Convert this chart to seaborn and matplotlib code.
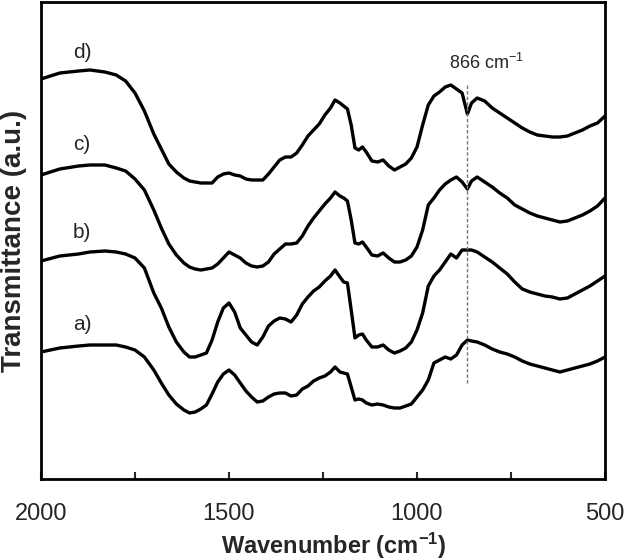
import matplotlib
matplotlib.use("Agg")
import matplotlib.pyplot as plt
import seaborn as sns
import pandas as pd
from matplotlib.ticker import MultipleLocator

# FTIR spectra, curves already offset vertically (arbitrary units)
wavenumber = [2000, 1950, 1900, 1870, 1830, 1800, 1775, 1750,
              1725, 1700, 1680, 1660, 1640, 1620, 1605, 1590,
              1575, 1560, 1545, 1530, 1515, 1500, 1485, 1470,
              1455, 1440, 1425, 1410, 1395, 1380, 1365, 1350,
              1335, 1320, 1305, 1290, 1275, 1260, 1245, 1230,
              1218, 1205, 1195, 1185, 1175, 1165, 1155, 1145,
              1135, 1120, 1105, 1090, 1075, 1060, 1045, 1030,
              1015, 1000, 985, 970, 955, 940, 925, 910,
              895, 880, 866, 855, 840, 820, 800, 780,
              760, 740, 720, 700, 680, 660, 640, 620,
              600, 580, 560, 540, 520, 500]

spec_a = [127, 131, 133, 134, 134, 134, 132, 129,
          122, 109, 96, 84, 75, 69, 66, 67,
          70, 74, 85, 97, 105, 109, 104, 96,
          88, 82, 77, 78, 82, 85, 86, 86,
          83, 84, 90, 93, 98, 101, 103, 107,
          112, 107, 106, 105, 92, 79, 80, 79,
          76, 74, 75, 74, 72, 71, 71, 73,
          75, 82, 89, 99, 116, 119, 122, 120,
          124, 134, 139, 138, 137, 134, 130, 127,
          125, 122, 118, 115, 113, 111, 109, 107,
          109, 111, 113, 115, 118, 122]

spec_b = [218, 223, 225, 227, 228, 227, 225, 221,
          211, 186, 171, 152, 137, 127, 122, 122,
          124, 126, 139, 157, 171, 176, 167, 151,
          144, 137, 134, 142, 153, 158, 161, 160,
          157, 164, 175, 182, 188, 192, 198, 203,
          209, 202, 197, 196, 169, 141, 144, 145,
          139, 132, 132, 134, 129, 126, 128, 131,
          137, 149, 166, 193, 203, 209, 217, 225,
          221, 229, 229, 229, 227, 222, 217, 211,
          205, 197, 190, 187, 185, 183, 182, 180,
          181, 185, 189, 193, 198, 203]

spec_c = [304, 310, 313, 314, 314, 311, 308, 300,
          289, 269, 251, 235, 224, 216, 212, 210,
          209, 210, 211, 215, 221, 227, 224, 221,
          216, 213, 212, 213, 217, 225, 230, 235,
          235, 236, 243, 253, 261, 268, 275, 281,
          287, 283, 281, 278, 259, 236, 235, 237,
          232, 224, 223, 226, 221, 217, 217, 219,
          223, 232, 249, 274, 281, 289, 295, 299,
          302, 297, 290, 298, 302, 297, 292, 286,
          281, 274, 270, 266, 263, 261, 259, 257,
          258, 261, 264, 268, 273, 281]

spec_d = [400, 406, 408, 409, 407, 404, 398, 386,
          368, 345, 330, 315, 307, 301, 298, 297,
          296, 296, 296, 302, 305, 306, 304, 303,
          300, 299, 299, 299, 305, 312, 319, 322,
          322, 326, 334, 343, 349, 355, 364, 371,
          379, 376, 373, 370, 354, 331, 329, 332,
          327, 318, 317, 319, 313, 309, 312, 315,
          321, 332, 354, 374, 383, 387, 392, 394,
          390, 386, 365, 376, 381, 378, 371, 366,
          361, 356, 351, 347, 344, 343, 342, 342,
          343, 346, 349, 353, 356, 363]

samples = ["a)", "b)", "c)", "d)"]
spectra = [spec_a, spec_b, spec_c, spec_d]

df = pd.concat(
    [pd.DataFrame({"wavenumber": wavenumber, "transmittance": s, "sample": name})
     for name, s in zip(samples, spectra)],
    ignore_index=True,
)

sns.set_style("ticks")
plt.rcParams["font.family"] = ["Liberation Sans", "DejaVu Sans"]
plt.rcParams["mathtext.default"] = "regular"

fig = plt.figure(figsize=(6.25, 5.6), dpi=100)
ax = fig.add_axes([41 / 625, 81 / 560, 564 / 625, 477 / 560])

sns.lineplot(data=df, x="wavenumber", y="transmittance", hue="sample",
             palette=["black"] * 4, linewidth=2.4, legend=False, ax=ax)

# marker line at 866 cm-1
ax.vlines(866, 96, 396, colors="#777777", linestyles=(0, (2.5, 1.5)), linewidth=1.0)
ax.text(816, 416, "866 cm$^{-1}$", ha="center", va="center", fontsize=13)

# curve labels
for name, ypos in zip(samples, [154, 247, 334, 427]):
    ax.text(1891, ypos, name, ha="center", va="center", fontsize=15)

ax.set_xlim(2000, 500)
ax.set_ylim(0, 477)
ax.set_yticks([])
ax.xaxis.set_major_locator(MultipleLocator(500))
ax.xaxis.set_minor_locator(MultipleLocator(250))
ax.tick_params(axis="x", which="both", direction="in", length=5, width=1.5,
               labelsize=17, pad=17)
for sp in ax.spines.values():
    sp.set_linewidth(2.0)
    sp.set_color("black")

ax.set_xlabel("Wavenumber (cm$^{-1}$)", fontsize=17, fontweight="bold")
ax.set_ylabel("Transmittance (a.u.)", fontsize=20, fontweight="bold")
ax.xaxis.set_label_coords(0.519, -0.109)
ax.yaxis.set_label_coords(-0.025, 0.5)

fig.savefig("out.png", dpi=100)
